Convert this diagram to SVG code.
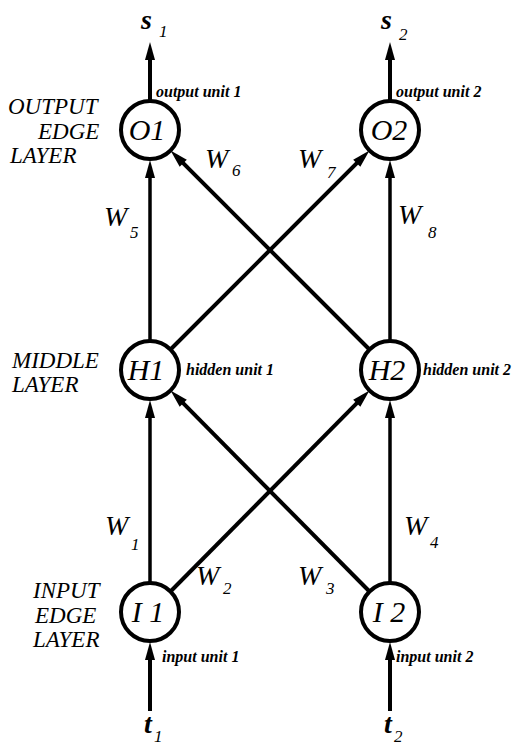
<svg xmlns="http://www.w3.org/2000/svg" width="513" height="745" viewBox="0 0 513 745">
  <!-- connectors: shafts plus solid arrowheads -->
  <g id="edges">
    <g stroke="#000" stroke-width="4">
      <line x1="150" y1="102" x2="150" y2="50"/>
      <line x1="390" y1="102" x2="390" y2="50"/>
      <line x1="150" y1="341" x2="150" y2="168" stroke-width="3.5"/>
      <line x1="390" y1="341" x2="390" y2="168" stroke-width="3.5"/>
      <line x1="369.5" y1="349.5" x2="176.2" y2="156.2"/>
      <line x1="170.5" y1="349.5" x2="363.8" y2="156.2"/>
      <line x1="150" y1="583" x2="150" y2="408" stroke-width="3.5"/>
      <line x1="390" y1="583" x2="390" y2="408" stroke-width="3.5"/>
      <line x1="170.5" y1="591.5" x2="363.8" y2="396.2"/>
      <line x1="369.5" y1="591.5" x2="176.2" y2="396.2"/>
      <line x1="150" y1="711" x2="150" y2="650"/>
      <line x1="390" y1="711" x2="390" y2="650"/>
    </g>
    <g fill="#000">
      <polygon points="150,42 145,60 155,60"/>
      <polygon points="390,42 385,60 395,60"/>
      <polygon points="150,160 145,178 155,178"/>
      <polygon points="390,160 385,178 395,178"/>
      <polygon points="150,400 145,418 155,418"/>
      <polygon points="390,400 385,418 395,418"/>
      <polygon points="150,642 145,660 155,660"/>
      <polygon points="390,642 385,660 395,660"/>
      <polygon points="170.5,150.5 186.8,159.7 179.7,166.8"/>
      <polygon points="369.5,150.5 360.3,166.8 353.2,159.7"/>
      <polygon points="369.5,390.5 360.3,406.8 353.2,399.7"/>
      <polygon points="170.5,390.5 186.8,399.7 179.7,406.8"/>
    </g>
  </g>

  <!-- nodes -->
  <g fill="#fff" stroke="#000" stroke-width="4">
    <g id="O1"><circle cx="150" cy="130" r="29"/><text x="147" y="140" font-family="'Liberation Serif', 'Times New Roman', serif" font-style="italic" font-size="30" text-anchor="middle" fill="#000" stroke="none">O1</text></g>
    <g id="O2"><circle cx="390" cy="130" r="29"/><text x="389" y="140" font-family="'Liberation Serif', 'Times New Roman', serif" font-style="italic" font-size="30" text-anchor="middle" fill="#000" stroke="none">O2</text></g>
    <g id="H1"><circle cx="150" cy="370" r="29"/><text x="146" y="380" font-family="'Liberation Serif', 'Times New Roman', serif" font-style="italic" font-size="30" text-anchor="middle" fill="#000" stroke="none">H1</text></g>
    <g id="H2"><circle cx="390" cy="370" r="29"/><text x="387" y="380" font-family="'Liberation Serif', 'Times New Roman', serif" font-style="italic" font-size="30" text-anchor="middle" fill="#000" stroke="none">H2</text></g>
    <g id="I1"><circle cx="150" cy="612" r="29"/><text x="148" y="622" font-family="'Liberation Serif', 'Times New Roman', serif" font-style="italic" font-size="30" text-anchor="middle" fill="#000" stroke="none">I 1</text></g>
    <g id="I2"><circle cx="390" cy="612" r="29"/><text x="389" y="622" font-family="'Liberation Serif', 'Times New Roman', serif" font-style="italic" font-size="30" text-anchor="middle" fill="#000" stroke="none">I 2</text></g>
  </g>

  <!-- unit captions -->
  <text x="156" y="97" font-family="'Liberation Serif', 'Times New Roman', serif" font-style="italic" font-weight="bold" font-size="16">output unit 1</text>
  <text x="396" y="97" font-family="'Liberation Serif', 'Times New Roman', serif" font-style="italic" font-weight="bold" font-size="16">output unit 2</text>
  <text x="186" y="375" font-family="'Liberation Serif', 'Times New Roman', serif" font-style="italic" font-weight="bold" font-size="16">hidden unit 1</text>
  <text x="423" y="375" font-family="'Liberation Serif', 'Times New Roman', serif" font-style="italic" font-weight="bold" font-size="16">hidden unit 2</text>
  <text x="162" y="662" font-family="'Liberation Serif', 'Times New Roman', serif" font-style="italic" font-weight="bold" font-size="16">input unit 1</text>
  <text x="396" y="662" font-family="'Liberation Serif', 'Times New Roman', serif" font-style="italic" font-weight="bold" font-size="16">input unit 2</text>

  <!-- layer captions -->
  <text x="8" y="114" font-family="'Liberation Serif', 'Times New Roman', serif" font-style="italic" font-size="23">OUTPUT</text>
  <text x="38" y="139" font-family="'Liberation Serif', 'Times New Roman', serif" font-style="italic" font-size="23">EDGE</text>
  <text x="10" y="163" font-family="'Liberation Serif', 'Times New Roman', serif" font-style="italic" font-size="23">LAYER</text>
  <text x="12" y="368" font-family="'Liberation Serif', 'Times New Roman', serif" font-style="italic" font-size="23">MIDDLE</text>
  <text x="12" y="392" font-family="'Liberation Serif', 'Times New Roman', serif" font-style="italic" font-size="23">LAYER</text>
  <text x="33" y="598" font-family="'Liberation Serif', 'Times New Roman', serif" font-style="italic" font-size="23">INPUT</text>
  <text x="35" y="623" font-family="'Liberation Serif', 'Times New Roman', serif" font-style="italic" font-size="23">EDGE</text>
  <text x="33" y="647" font-family="'Liberation Serif', 'Times New Roman', serif" font-style="italic" font-size="23">LAYER</text>

  <!-- weights -->
  <text x="104" y="226" font-family="'Liberation Serif', 'Times New Roman', serif" font-style="italic" font-size="28">W</text><text x="130" y="238" font-family="'Liberation Serif', 'Times New Roman', serif" font-style="italic" font-size="17">5</text>
  <text x="205" y="168" font-family="'Liberation Serif', 'Times New Roman', serif" font-style="italic" font-size="28">W</text><text x="232" y="176" font-family="'Liberation Serif', 'Times New Roman', serif" font-style="italic" font-size="17">6</text>
  <text x="298" y="168" font-family="'Liberation Serif', 'Times New Roman', serif" font-style="italic" font-size="28">W</text><text x="327" y="178" font-family="'Liberation Serif', 'Times New Roman', serif" font-style="italic" font-size="17">7</text>
  <text x="398" y="224" font-family="'Liberation Serif', 'Times New Roman', serif" font-style="italic" font-size="28">W</text><text x="428" y="238" font-family="'Liberation Serif', 'Times New Roman', serif" font-style="italic" font-size="17">8</text>
  <text x="105" y="535" font-family="'Liberation Serif', 'Times New Roman', serif" font-style="italic" font-size="28">W</text><text x="131" y="550" font-family="'Liberation Serif', 'Times New Roman', serif" font-style="italic" font-size="17">1</text>
  <text x="196" y="585" font-family="'Liberation Serif', 'Times New Roman', serif" font-style="italic" font-size="28">W</text><text x="223" y="594" font-family="'Liberation Serif', 'Times New Roman', serif" font-style="italic" font-size="17">2</text>
  <text x="298" y="585" font-family="'Liberation Serif', 'Times New Roman', serif" font-style="italic" font-size="28">W</text><text x="326" y="594" font-family="'Liberation Serif', 'Times New Roman', serif" font-style="italic" font-size="17">3</text>
  <text x="404" y="535" font-family="'Liberation Serif', 'Times New Roman', serif" font-style="italic" font-size="28">W</text><text x="430" y="548" font-family="'Liberation Serif', 'Times New Roman', serif" font-style="italic" font-size="17">4</text>

  <!-- external signals -->
  <text x="141" y="29" font-family="'Liberation Serif', 'Times New Roman', serif" font-style="italic" font-weight="bold" font-size="28">s</text><text x="159" y="37" font-family="'Liberation Serif', 'Times New Roman', serif" font-style="italic" font-size="17">1</text>
  <text x="381" y="29" font-family="'Liberation Serif', 'Times New Roman', serif" font-style="italic" font-weight="bold" font-size="28">s</text><text x="399" y="40" font-family="'Liberation Serif', 'Times New Roman', serif" font-style="italic" font-size="17">2</text>
  <text x="144" y="733" font-family="'Liberation Serif', 'Times New Roman', serif" font-style="italic" font-weight="bold" font-size="28">t</text><text x="154" y="742" font-family="'Liberation Serif', 'Times New Roman', serif" font-style="italic" font-size="17">1</text>
  <text x="384" y="733" font-family="'Liberation Serif', 'Times New Roman', serif" font-style="italic" font-weight="bold" font-size="28">t</text><text x="394" y="742" font-family="'Liberation Serif', 'Times New Roman', serif" font-style="italic" font-size="17">2</text>
</svg>
